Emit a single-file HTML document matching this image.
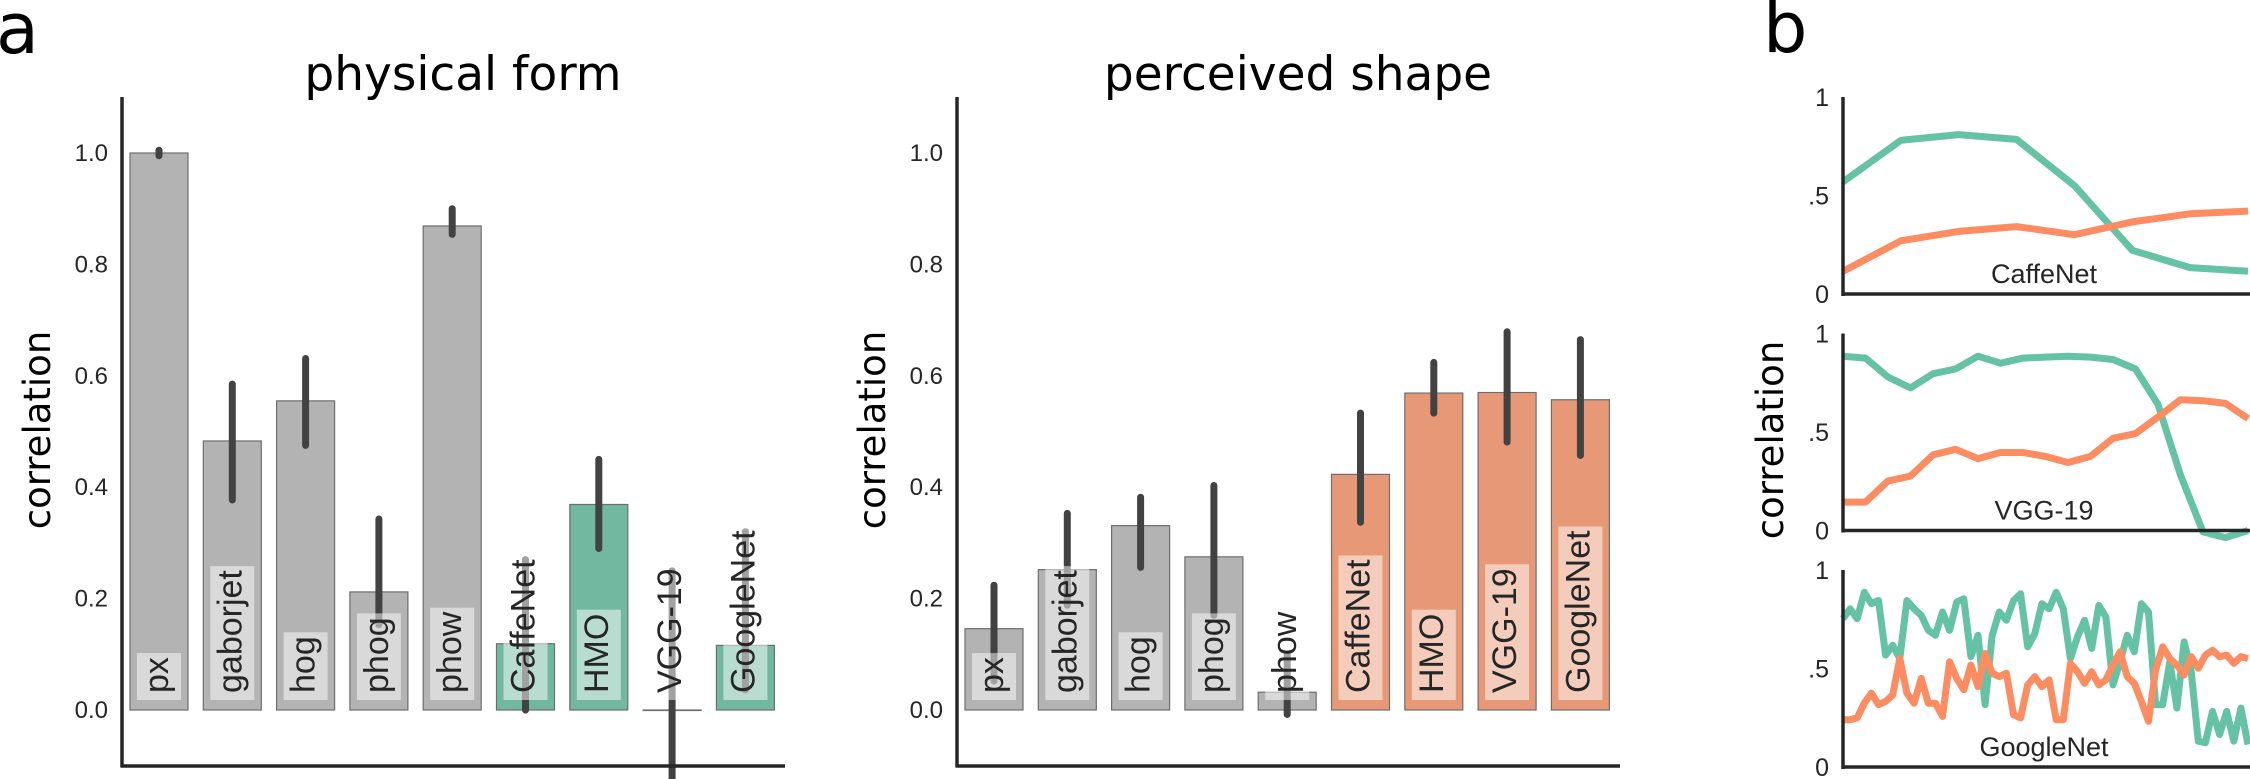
<!DOCTYPE html>
<html><head><meta charset="utf-8">
<style>
html,body{margin:0;padding:0;background:#fff;}
svg{display:block;}
.tick{font-family:"Liberation Sans",sans-serif;font-size:24px;fill:#262626;}
.rtick{font-family:"Liberation Sans",sans-serif;font-size:25px;fill:#262626;}
.title{font-family:"DejaVu Sans",sans-serif;font-size:47px;fill:#000;}
.ylab{font-family:"DejaVu Sans",sans-serif;font-size:37px;fill:#000;}
.panel{font-family:"DejaVu Sans",sans-serif;font-size:70px;fill:#000;}
.barlab{font-family:"Liberation Sans",sans-serif;font-size:34px;fill:#262626;}
.plab{font-family:"Liberation Sans",sans-serif;font-size:27px;fill:#262626;}
</style></head>
<body>
<svg id="fig" width="2250" height="779" viewBox="0 0 2250 779" xmlns="http://www.w3.org/2000/svg">
<text class="panel" x="-4" y="53">a</text>
<text class="panel" x="1763" y="52">b</text>
<text class="title" x="463" y="90" text-anchor="middle">physical form</text>
<text class="title" x="1298" y="90" text-anchor="middle">perceived shape</text>
<text class="ylab" transform="translate(50,430) rotate(-90)" text-anchor="middle">correlation</text>
<text class="ylab" transform="translate(885,430) rotate(-90)" text-anchor="middle">correlation</text>
<text class="ylab" transform="translate(1783,440) rotate(-90)" text-anchor="middle">correlation</text>
<g id="chartA"></g>
<g id="chartB"></g>
<g id="chartC"></g>
</svg>
<script>
const categories = ["px","gaborjet","hog","phog","phow","CaffeNet","HMO","VGG-19","GoogleNet"];
const physicalValues = [1.0,0.483,0.555,0.212,0.869,0.119,0.369,0.0,0.116];
const physicalErrLow = [0.995,0.377,0.475,0.153,0.854,0.0,0.29,-0.123,0.036];
const physicalErrHigh = [1.005,0.585,0.631,0.343,0.9,0.27,0.45,0.25,0.32];
const perceivedValues = [0.146,0.252,0.331,0.275,0.032,0.423,0.569,0.570,0.557];
const perceivedErrLow = [0.052,0.188,0.256,0.17,-0.008,0.337,0.533,0.481,0.457];
const perceivedErrHigh = [0.224,0.353,0.382,0.403,0.1,0.533,0.624,0.679,0.665];
const yTicks = [0.0,0.2,0.4,0.6,0.8,1.0];
const yTickLabels = ["0.0","0.2","0.4","0.6","0.8","1.0"];
const caffeGreen = [0.569,0.780,0.809,0.785,0.550,0.222,0.134,0.115];
const caffeOrange = [0.115,0.270,0.318,0.342,0.301,0.366,0.407,0.421];
const vggGreen = [0.885,0.875,0.779,0.724,0.796,0.820,0.885,0.849,0.875,0.880,0.885,0.880,0.868,0.820,0.640,0.281,-0.007,-0.036,0.0];
const vggOrange = [0.144,0.144,0.252,0.276,0.384,0.412,0.365,0.396,0.396,0.376,0.345,0.376,0.468,0.492,0.576,0.664,0.659,0.645,0.568];
const googGreen = [0.753,0.803,0.753,0.887,0.829,0.845,0.568,0.618,0.551,0.845,0.803,0.770,0.694,0.669,0.787,0.694,0.837,0.854,0.560,0.669,0.316,0.669,0.787,0.745,0.845,0.879,0.610,0.677,0.829,0.803,0.887,0.803,0.551,0.661,0.745,0.602,0.820,0.761,0.417,0.534,0.669,0.585,0.829,0.787,0.316,0.316,0.534,0.299,0.635,0.484,0.131,0.123,0.282,0.165,0.282,0.131,0.299,0.114];
const googOrange = [0.240,0.240,0.249,0.324,0.375,0.316,0.333,0.366,0.551,0.375,0.324,0.450,0.324,0.324,0.257,0.534,0.450,0.392,0.518,0.408,0.576,0.476,0.459,0.476,0.266,0.249,0.417,0.459,0.408,0.442,0.240,0.240,0.526,0.484,0.425,0.484,0.417,0.442,0.518,0.585,0.459,0.425,0.333,0.232,0.492,0.610,0.551,0.518,0.467,0.560,0.501,0.568,0.593,0.560,0.568,0.526,0.560,0.551];
const panelNames = ["CaffeNet","VGG-19","GoogleNet"];
const rTicks = [0,0.5,1];
const rTickLabels = ["0",".5","1"];

const NS = "http://www.w3.org/2000/svg";
function mk(parent, tag, attrs){
  const e = document.createElementNS(NS, tag);
  for (const k in attrs) e.setAttribute(k, attrs[k]);
  parent.appendChild(e);
  return e;
}

function barChart(g, axisX, values, lo, hi, modelColor, prefix){
  const y0 = 710, unit = 557;
  const y = v => y0 - v*unit;
  const x = i => axisX + 37 + i*73.3;
  const bw = 58;
  yTicks.forEach((t,i)=>{
    const tx = mk(g,"text",{x:axisX-14,y:y(t)+8,"text-anchor":"end",class:"tick"});
    tx.textContent = yTickLabels[i];
    
    
  });
  categories.forEach((c,i)=>{
    const v = values[i];
    const col = i < 5 ? "#b3b3b3" : modelColor;
    const r = mk(g,"rect",{x:x(i)-bw/2,y:Math.min(y(v),y0),width:bw,height:Math.max(Math.abs(y(v)-y0),0.5),fill:col,stroke:"#6e6e6e","stroke-width":1.2});
    
    
    const eb = mk(g,"line",{x1:x(i),x2:x(i),y1:y(lo[i]),y2:y(hi[i]),stroke:"#424242","stroke-width":7,"stroke-linecap":"round"});
    
    
  });
  categories.forEach((c,i)=>{
    const lg = mk(g,"g",{});
    
    
    const rect = mk(lg,"rect",{fill:"rgba(255,255,255,0.5)"});
    const t = mk(lg,"text",{class:"barlab",transform:`translate(${x(i)+9},${y0-17}) rotate(-90)`});
    t.textContent = c;
    const len = t.getComputedTextLength();
    rect.setAttribute("x", x(i)-22);
    rect.setAttribute("width", 44);
    rect.setAttribute("y", y0-17-len-4);
    rect.setAttribute("height", len+11);
  });
  const sp1 = mk(g,"line",{x1:axisX,x2:axisX,y1:97,y2:767,stroke:"#262626","stroke-width":3.5});
  
  
  const sp2 = mk(g,"line",{x1:axisX-1.5,x2:axisX+663,y1:766,y2:766,stroke:"#262626","stroke-width":3.5});
  
  
}
barChart(document.getElementById("chartA"),122,physicalValues,physicalErrLow,physicalErrHigh,"#72b8a0","physical");
barChart(document.getElementById("chartB"),957,perceivedValues,perceivedErrLow,perceivedErrHigh,"#e79877","perceived");

const gC = document.getElementById("chartC");
const panelSeries = [[caffeGreen,caffeOrange],[vggGreen,vggOrange],[googGreen,googOrange]];
panelSeries.forEach((ser,p)=>{
  const base = 294 + p*236.5, top = base - 197;
  const x0 = 1843, x1 = 2250;
  const y = v => base - v*197;
  const pg = mk(gC,"g",{});
  
  
  rTicks.forEach((t,i)=>{
    const tx = mk(pg,"text",{x:1829,y:y(t)+9,"text-anchor":"end",class:"rtick"});
    tx.textContent = rTickLabels[i];
    
    
  });
  const lab = mk(pg,"text",{x:2044,y:base-11,"text-anchor":"middle",class:"plab"});
  lab.textContent = panelNames[p];
  
  
  ["#66c2a5","#fc8d62"].forEach((col,s)=>{
    const d = ser[s];
    const x = i => x0 + i*(x1-x0-2)/(d.length-1);
    const pts = d.map((v,i)=>x(i).toFixed(1)+","+y(v).toFixed(1)).join(" ");
    const pl = mk(pg,"polyline",{points:pts,fill:"none",stroke:col,"stroke-width":7,"stroke-linejoin":"round"});
    
    
  });
  const a1 = mk(pg,"line",{x1:x0,x2:x0,y1:top,y2:base+2,stroke:"#262626","stroke-width":3.5});
  
  
  const a2 = mk(pg,"line",{x1:x0-1.5,x2:2250,y1:base,y2:base,stroke:"#262626","stroke-width":3.5});
  
  
});
</script>
</body></html>
